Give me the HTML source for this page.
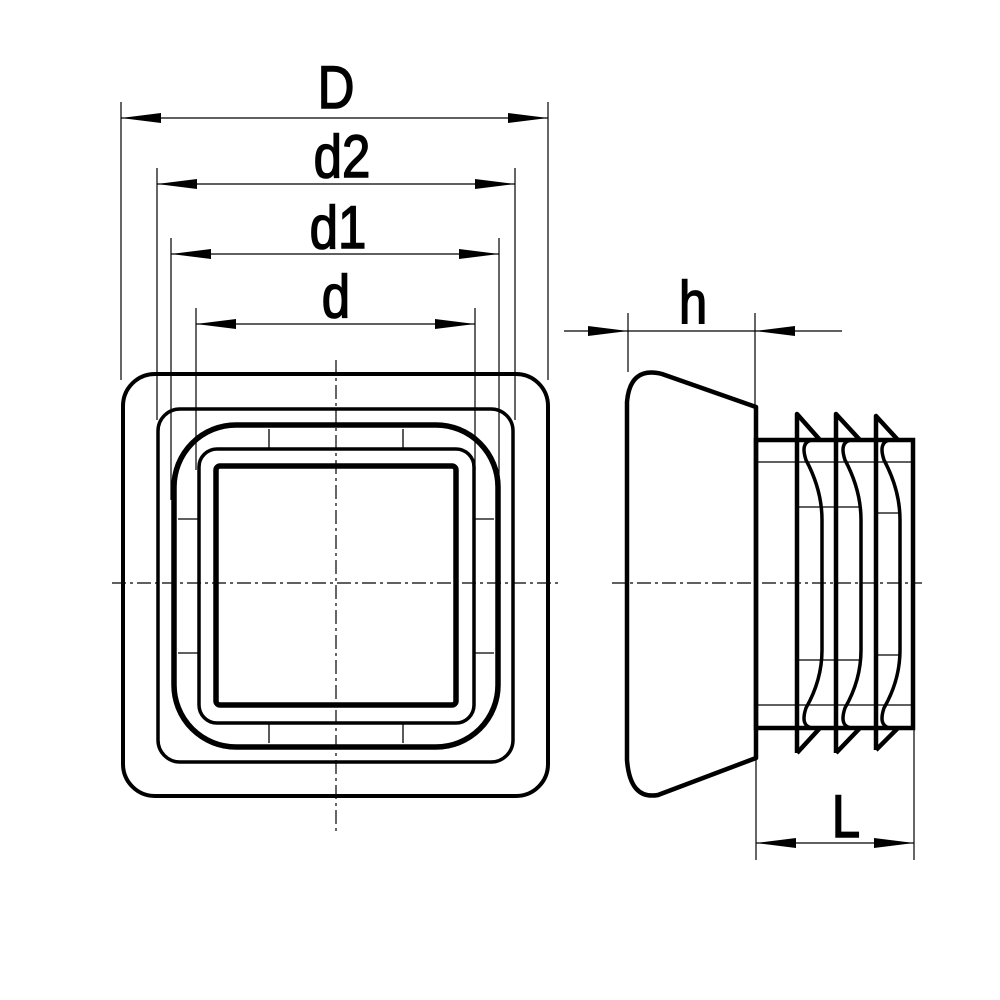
<!DOCTYPE html>
<html><head><style>body{margin:0;background:#fff}svg{display:block}text{font-family:"Liberation Sans",sans-serif;}</style></head>
<body>
<svg width="1000" height="1000" viewBox="0 0 1000 1000">
<defs>
<marker id="a" viewBox="0 0 40 10" refX="40" refY="5" markerWidth="40" markerHeight="10" markerUnits="userSpaceOnUse" orient="auto-start-reverse"><path d="M0,0 L40,5 L0,10 Z" fill="#000"/></marker>
</defs>
<g fill="none" stroke="#000">
<rect x="123" y="374" width="425" height="422" rx="32" stroke-width="4"/>
<rect x="158" y="409" width="355" height="353" rx="22" stroke-width="3.5"/>
<rect x="174" y="425" width="324" height="322" rx="62" stroke-width="5.5"/>
<rect x="199" y="449" width="275" height="274" rx="18" stroke-width="3.5"/>
<rect x="216" y="466" width="240" height="239" rx="4" stroke-width="5.5"/>
<g stroke-width="1.3">
<line x1="269" y1="429" x2="269" y2="448"/><line x1="403" y1="429" x2="403" y2="448"/>
<line x1="269" y1="724" x2="269" y2="743"/><line x1="403" y1="724" x2="403" y2="743"/>
<line x1="178" y1="519" x2="199" y2="519"/><line x1="178" y1="653" x2="199" y2="653"/>
<line x1="474" y1="519" x2="494" y2="519"/><line x1="474" y1="653" x2="494" y2="653"/>
</g>
<g stroke-width="1.2" stroke-dasharray="14,4,3,4">
<line x1="336" y1="360" x2="336" y2="835"/>
<line x1="112" y1="583" x2="560" y2="583"/>
<line x1="612" y1="583" x2="922" y2="583"/>
</g>
<g stroke-width="1.2">
<line x1="121" y1="102" x2="121" y2="380"/><line x1="548" y1="102" x2="548" y2="380"/>
<line x1="157" y1="168" x2="157" y2="420"/><line x1="515" y1="168" x2="515" y2="420"/>
<line x1="171" y1="238" x2="171" y2="500"/><line x1="499" y1="238" x2="499" y2="690"/>
<line x1="196" y1="308" x2="196" y2="470"/><line x1="475" y1="308" x2="475" y2="470"/>
<line x1="121" y1="118" x2="548" y2="118" marker-start="url(#a)" marker-end="url(#a)"/>
<line x1="157" y1="184" x2="515" y2="184" marker-start="url(#a)" marker-end="url(#a)"/>
<line x1="171" y1="254" x2="499" y2="254" marker-start="url(#a)" marker-end="url(#a)"/>
<line x1="196" y1="324" x2="475" y2="324" marker-start="url(#a)" marker-end="url(#a)"/>
<line x1="628" y1="313" x2="628" y2="372"/><line x1="755" y1="313" x2="755" y2="407"/>
<line x1="564" y1="331" x2="628" y2="331" marker-end="url(#a)"/>
<line x1="628" y1="331" x2="755" y2="331"/>
<line x1="842" y1="331" x2="755" y2="331" marker-end="url(#a)"/>
<line x1="756" y1="758" x2="756" y2="860"/><line x1="914" y1="728" x2="914" y2="860"/>
<line x1="756" y1="843" x2="914" y2="843" marker-start="url(#a)" marker-end="url(#a)"/>
</g>
<path d="M756,407 L662,374 Q630,366 627,402 L627,760 Q630,800 658,795 L756,758 Z" stroke-width="4.5" stroke-linejoin="round"/>
<rect x="756" y="440" width="157" height="288" stroke-width="4.5"/>
<g stroke-width="1.3">
<line x1="756" y1="462" x2="913" y2="462"/><line x1="756" y1="705" x2="913" y2="705"/>
<line x1="797" y1="507" x2="860" y2="507"/><line x1="797" y1="660" x2="860" y2="660"/>
<line x1="876" y1="513" x2="900" y2="513"/><line x1="876" y1="655" x2="900" y2="655"/>
</g>
<g stroke-width="4.5" stroke-linejoin="round">
<path d="M797,753 L797,414 L820,440"/><path d="M797,753 L820,728"/>
<path d="M836,753 L836,414 L860,440"/><path d="M836,753 L860,728"/>
<path d="M876,750 L876,416 L898,440"/><path d="M876,750 L898,728"/>
</g>
<g stroke-width="3.5">
<path d="M812,440 Q800,442 806,460 Q822,490 822,520 L822,650 Q822,680 806,708 Q800,726 812,728"/>
<path d="M851,440 Q839,442 845,460 Q861,490 861,520 L861,650 Q861,680 845,708 Q839,726 851,728"/>
<path d="M890,440 Q878,442 884,460 Q900,490 900,520 L900,650 Q900,680 884,708 Q878,726 890,728"/>
</g>
</g>
<g font-size="60" text-anchor="middle" stroke="#000" stroke-width="1.5">
<text x="336" y="108" transform="translate(336,0) scale(0.85,1) translate(-336,0)">D</text>
<text x="342" y="177" transform="translate(342,0) scale(0.85,1) translate(-342,0)">d2</text>
<text x="338" y="248" transform="translate(338,0) scale(0.85,1) translate(-338,0)">d1</text>
<text x="336" y="317" transform="translate(336,0) scale(0.85,1) translate(-336,0)">d</text>
<text x="693" y="323" transform="translate(693,0) scale(0.85,1) translate(-693,0)">h</text>
<text x="846" y="837" transform="translate(846,0) scale(0.85,1) translate(-846,0)">L</text>
</g>
</svg>
</body></html>
